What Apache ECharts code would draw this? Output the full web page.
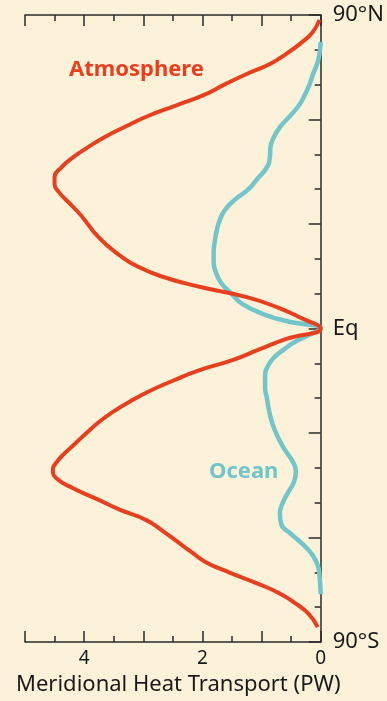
<!DOCTYPE html>
<html><head><meta charset="utf-8">
<script src="https://cdn.jsdelivr.net/npm/echarts@6/dist/echarts.min.js"></script>
<style>html,body{margin:0;padding:0;background:#FCF1D9;}#c{width:387px;height:701px;}</style>
</head><body><div id="c"></div>
<script>
// Latitude (deg, + north) and transport magnitude (PW)
const atmLat = [88.6, 85, 82, 79, 76, 73, 70, 67, 64, 61, 58, 55, 52, 49, 46, 43.5, 41.5, 39, 36, 33, 30, 27, 24, 21, 18, 15, 12, 9, 6, 3, 0,
  -3, -6, -9, -12, -15, -18, -21, -24, -27, -30, -33, -36, -38.5, -40.5, -43, -46, -49, -52, -55, -58, -61, -64, -67, -70, -73, -76, -79, -82, -85.7];
const atmPW  = [0.02, 0.14, 0.33, 0.57, 0.85, 1.26, 1.63, 1.98, 2.45, 2.92, 3.30, 3.65, 3.94, 4.20, 4.40, 4.50, 4.50, 4.42, 4.25, 4.08, 3.94, 3.80, 3.62, 3.40, 3.12, 2.70, 2.05, 1.25, 0.72, 0.33, 0,
  0.58, 1.04, 1.48, 2.06, 2.50, 2.90, 3.23, 3.52, 3.76, 3.96, 4.15, 4.34, 4.47, 4.53, 4.47, 4.17, 3.78, 3.40, 2.95, 2.68, 2.44, 2.20, 1.95, 1.55, 1.10, 0.70, 0.42, 0.20, 0.05];
const oceLat = [82.3, 79, 76, 73, 70, 67, 64, 61, 58, 55, 52, 49, 46, 43, 40, 37, 34, 31, 28, 25, 22, 19, 16, 13, 10, 7, 4, 2, 0,
  -2, -4, -6, -8, -11, -14, -17, -20, -23, -26, -29, -32, -35, -38, -41, -44, -47, -50, -53, -56, -59, -62, -65, -68, -71, -76.3];
const ocePW  = [0, 0.02, 0.06, 0.13, 0.19, 0.27, 0.37, 0.52, 0.68, 0.79, 0.85, 0.86, 0.92, 1.07, 1.22, 1.45, 1.62, 1.71, 1.76, 1.79, 1.81, 1.81, 1.77, 1.68, 1.51, 1.32, 0.95, 0.55, 0,
  0.22, 0.45, 0.62, 0.77, 0.90, 0.94, 0.94, 0.91, 0.88, 0.84, 0.78, 0.70, 0.60, 0.48, 0.42, 0.45, 0.55, 0.64, 0.69, 0.67, 0.50, 0.30, 0.14, 0.05, 0.02, 0];
const xTickLabels = {4: '4', 2: '2', 0: '0'};
const yTickLabels = {'90': '90°N', '0': 'Eq', '-90': '90°S'};

const FONT = 'Noto Sans';
const RED = '#E8401F', TEAL = '#72C5C9', AX = '#2a2a2a';
const chart = echarts.init(document.getElementById('c'));
const xBase = {
  type: 'value', min: 0, max: 5, interval: 1, inverse: true,
  axisLine: {show: true, onZero: false, lineStyle: {color: AX, width: 1.5}},
  axisTick: {show: true, inside: true, length: 11, lineStyle: {color: AX, width: 1.5}},
  minorTick: {show: true, splitNumber: 2, length: 6, lineStyle: {color: AX, width: 1.5}},
  splitLine: {show: false}
};
chart.setOption({
  backgroundColor: '#FCF1D9',
  animation: false,
  grid: {left: 25, right: 64, top: 15, bottom: 59},
  xAxis: [
    Object.assign({}, xBase, {position: 'bottom',
      axisLabel: {show: true, margin: 7, fontSize: 19, color: '#1a1a1a', fontFamily: FONT,
        formatter: v => xTickLabels[v] !== undefined ? xTickLabels[v] : ''}}),
    Object.assign({}, xBase, {position: 'top', axisLabel: {show: false}})
  ],
  yAxis: {
    type: 'value', min: -90, max: 90, interval: 30, position: 'right',
    axisLine: {show: true, onZero: false, lineStyle: {color: AX, width: 1.5}},
    axisTick: {show: true, inside: true, length: 12, lineStyle: {color: AX, width: 1.5}},
    minorTick: {show: true, splitNumber: 3, length: 6, lineStyle: {color: AX, width: 1.5}},
    splitLine: {show: false},
    axisLabel: {show: true, margin: 12, fontSize: 22, color: '#1a1a1a', fontFamily: FONT,
      formatter: v => yTickLabels[String(v)] || ''}
  },
  series: [
    {type: 'line', name: 'Ocean', xAxisIndex: 0, smooth: 0.5, symbol: 'none',
     lineStyle: {color: TEAL, width: 4.5}, data: oceLat.map((l, i) => [ocePW[i], l])},
    {type: 'line', name: 'Atmosphere', xAxisIndex: 0, smooth: 0.5, symbol: 'none',
     lineStyle: {color: RED, width: 4}, data: atmLat.map((l, i) => [atmPW[i], l])}
  ],
  graphic: [
    {type: 'text', left: 69, top: 59, style: {text: 'Atmosphere', fill: RED, font: 'bold 22px "' + FONT + '"'}},
    {type: 'text', left: 209, top: 461, style: {text: 'Ocean', fill: TEAL, font: 'bold 22px "' + FONT + '"'}},
    {type: 'text', left: 16, top: 674, style: {text: 'Meridional Heat Transport (PW)', fill: '#1a1a1a', font: '22px "' + FONT + '"'}}
  ]
});
</script></body></html>
